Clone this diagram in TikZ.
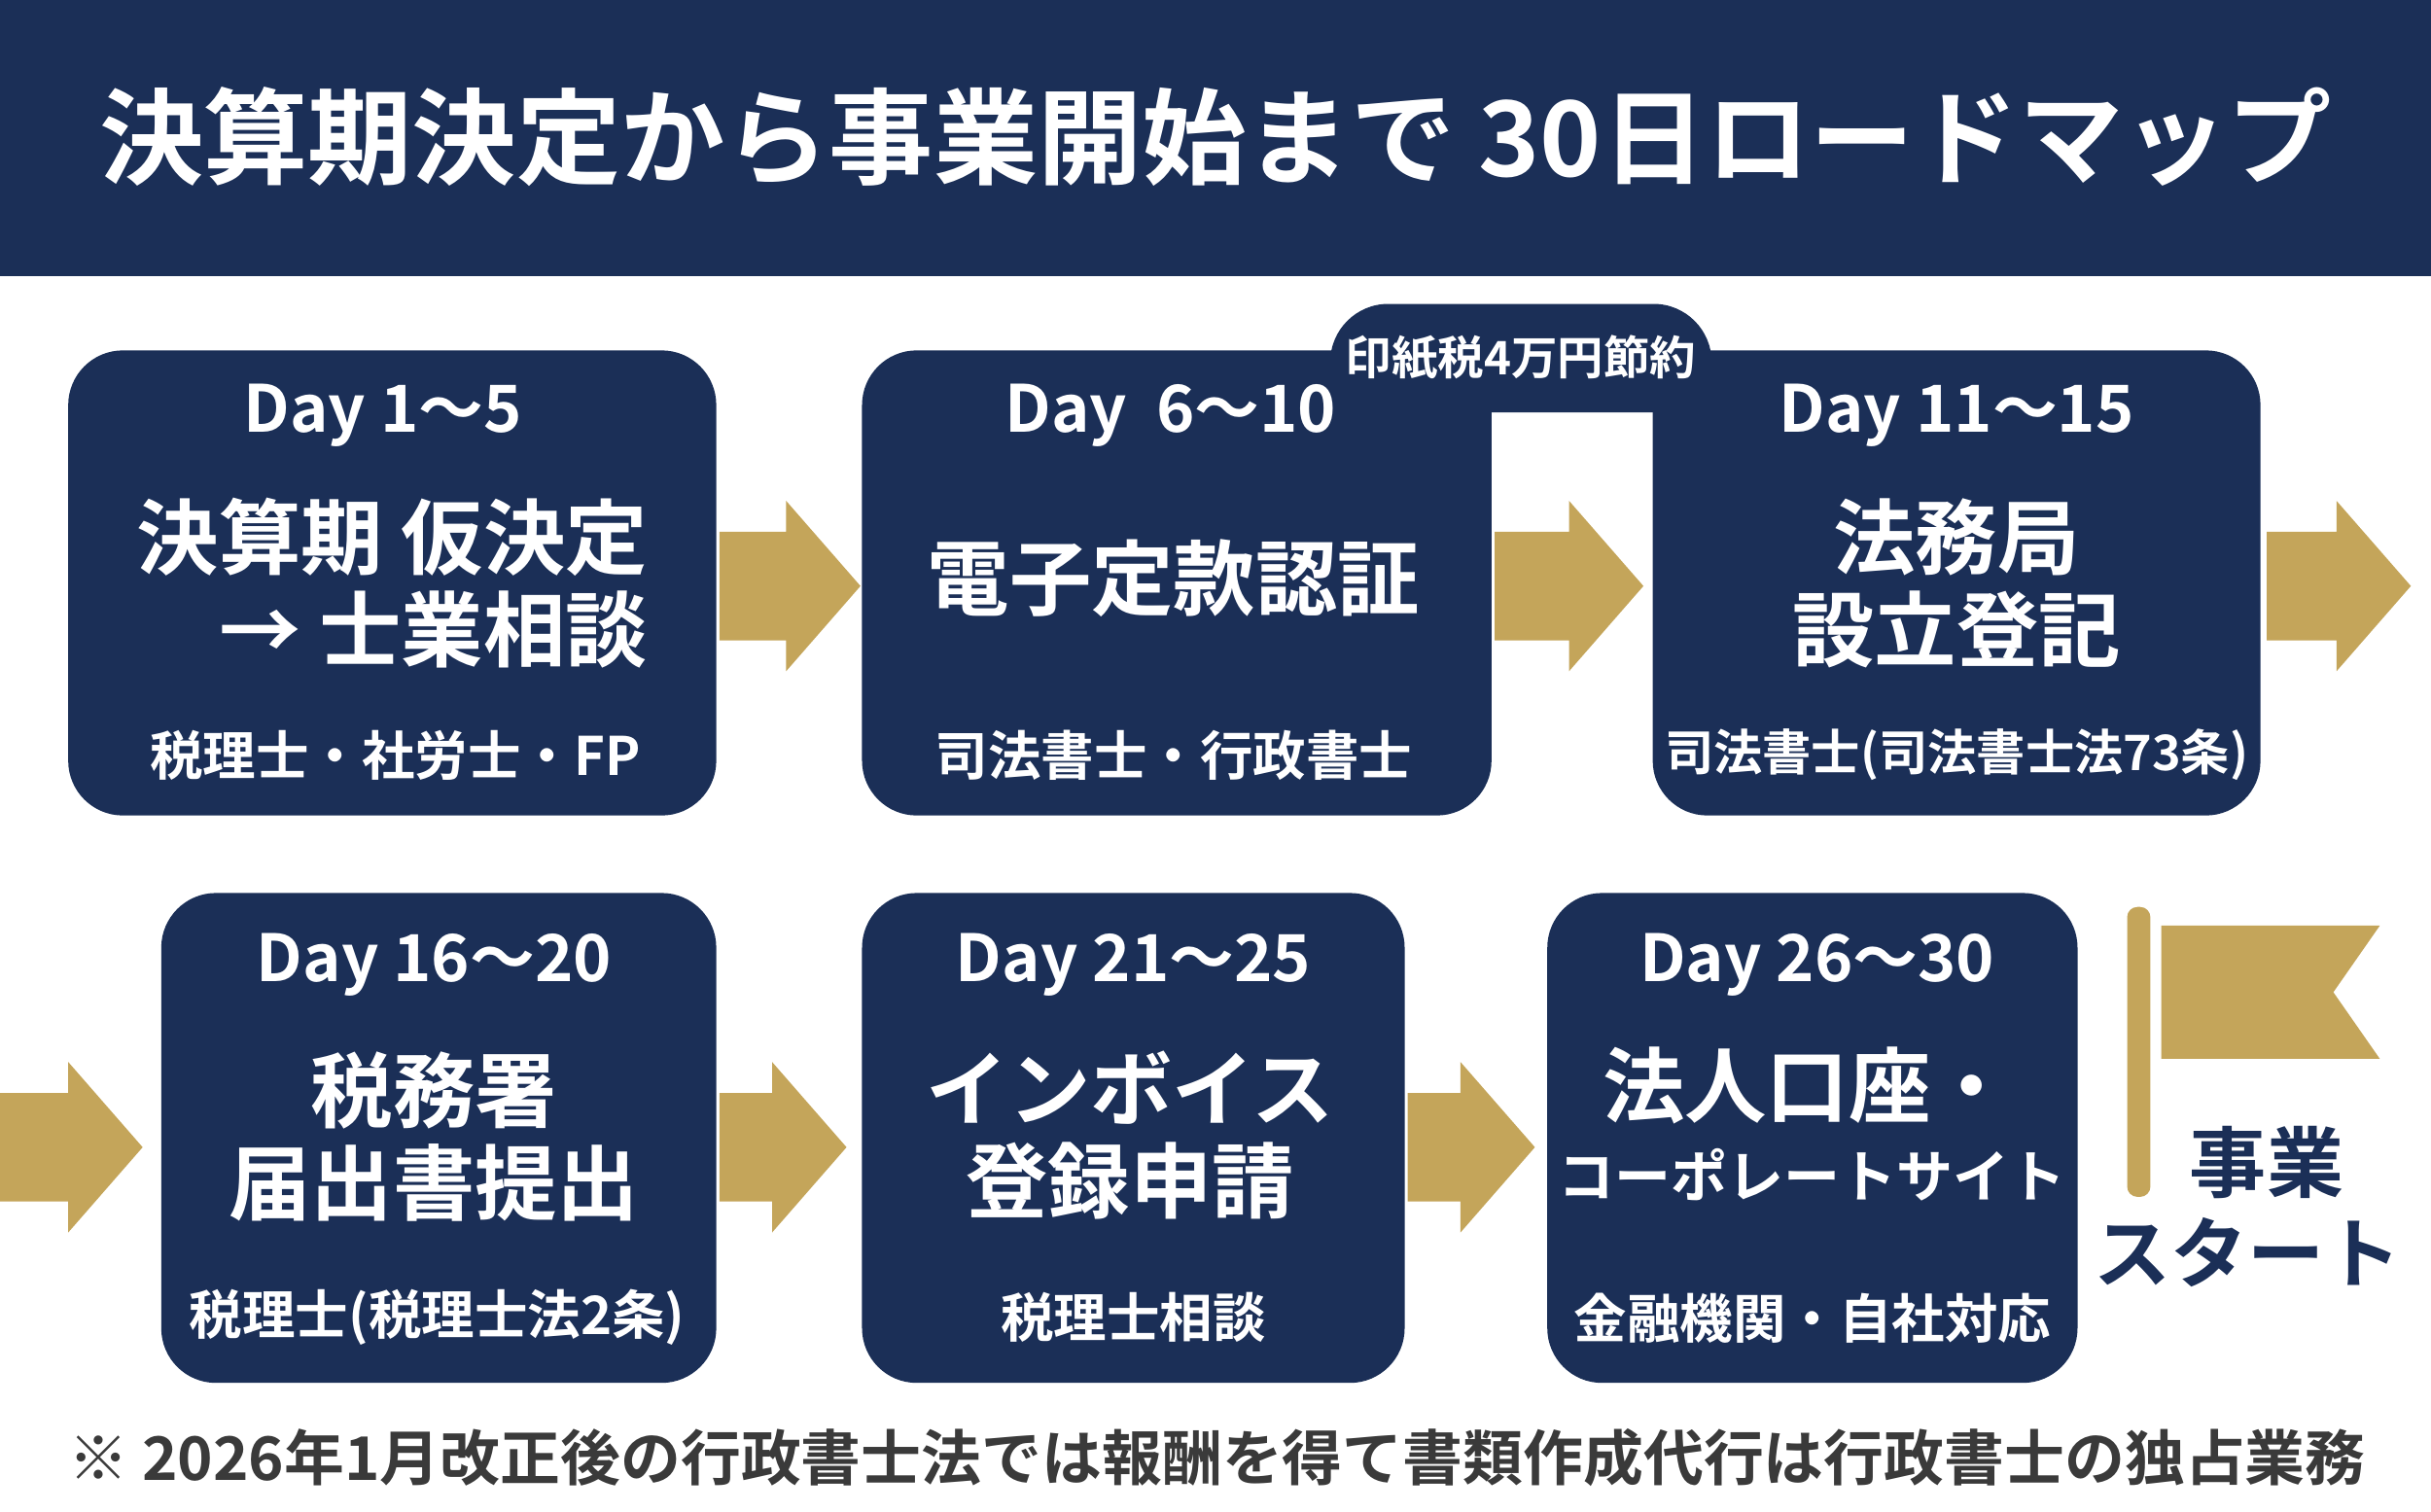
\documentclass[tikz,border=0pt]{standalone}
\usepackage{fontspec}
\setmainfont{Noto Sans CJK JP}[BoldFont={Noto Sans CJK JP Bold}]
\definecolor{navy}{HTML}{1B2F57}
\definecolor{gold}{HTML}{C4A55A}
\definecolor{ink}{HTML}{3A3A3A}
\tikzset{
  stepbox/.style={fill=navy, rounded corners=16pt, inner sep=0pt},
  dayl/.style={text=white, font=\bfseries\fontsize{19}{19}\selectfont},
  mainl/.style={text=white, font=\bfseries\fontsize{24}{27}\selectfont, align=center},
  subl/.style={text=white, font=\bfseries\fontsize{15.5}{15.5}\selectfont},
  every node/.style={inner sep=0pt}
}
% block arrow: from x #1 to tip x #2 at height #3
\newcommand\goldarrow[3]{%
  \fill[gold] (#1,#3-35) -- (#2-48,#3-35) -- (#2-48,#3-55) -- (#2,#3)
    -- (#2-48,#3+55) -- (#2-48,#3+35) -- (#1,#3+35) -- cycle;}
\begin{document}
\begin{tikzpicture}[x=0.1594mm, y=-0.1594mm]
  \useasboundingbox (0,0) rectangle (1568,975);
  \fill[navy] (0,0) rectangle (1568,178);
  \node[text=white, font=\bfseries\fontsize{30.5}{30}\selectfont] (title) at (784,88) {決算期決定から事業開始まで 30日ロードマップ};

  % row 1
  \fill[stepbox] (44,226) rectangle (462,526);
  \fill[stepbox] (556,226) rectangle (962,526);
  \fill[stepbox] (1066,226) rectangle (1458,526);
  % row 2
  \fill[stepbox] (104,576) rectangle (462,892);
  \fill[stepbox] (556,576) rectangle (906,892);
  \fill[stepbox] (998,576) rectangle (1340,892);

  % arrows
  \goldarrow{464}{555}{378}
  \goldarrow{964}{1060}{378}
  \goldarrow{1462}{1555}{378}
  \goldarrow{0}{92}{740}
  \goldarrow{464}{546}{740}
  \goldarrow{908}{990}{740}

  \node[dayl] (d1) at (247,268) {Day 1〜5};
  \node[mainl] (m1) at (253,376) {決算期 仮決定\\\quad→ 士業相談};
  \node[subl] (s1) at (255,487) {税理士・社労士・FP};

  \node[dayl] (d2) at (755,268) {Day\ \ 6〜10};
  \node[mainl] (m2) at (757,373) {電子定款認証};
  \node[subl] (s2) at (757,487) {司法書士・行政書士};

  \node[dayl] (d3) at (1262,268) {Day 11〜15};
  \node[mainl] (m3) at (1262,376) {法務局\\設立登記};
  \node[subl, font=\bfseries\fontsize{14.3}{15}\selectfont] (s3) at (1262,487) {司法書士(司法書士法73条)};

  \node[dayl] (d4) at (280,622) {Day 16〜20};
  \node[mainl] (m4) at (280,733) {税務署\\届出書提出};
  \node[subl] (s4) at (282,850) {税理士(税理士法2条)};

  \node[dayl] (d5) at (731,622) {Day 21〜25};
  \node[mainl] (m5) at (729,732) {インボイス\\登録申請};
  \node[subl] (s5) at (731,850) {税理士相談};

  \node[dayl] (d6) at (1172,622) {Day 26〜30};
  \node[mainl] (m6) at (1166,700) {法人口座・};
  \node[text=white, font=\bfseries\fontsize{16.5}{17}\selectfont] (m6b) at (1169,758) {コーポレートサイト};
  \node[subl] (s6) at (1169,850) {金融機関・自社対応};

  % callout
  \fill[navy] (912,262) -- (934,298) -- (958,262) -- cycle;
  \fill[navy, rounded corners=17pt] (858,196) rectangle (1104,266);
  \node[text=white, font=\bfseries\fontsize{13.5}{13.5}\selectfont] (tag) at (981,231) {印紙税4万円節約};

  % flag
  \fill[gold, rounded corners=3pt] (1372,585) rectangle (1387,772);
  \fill[gold] (1394,597) -- (1535,597) -- (1505,640) -- (1535,683) -- (1394,683) -- cycle;
  \node[text=navy, font=\bfseries\fontsize{22.5}{22}\selectfont] (go1) at (1462,750) {事業};
  \node[text=navy, font=\bfseries\fontsize{22.5}{22}\selectfont] (go2) at (1450,808) {スタート};

  \node[text=ink, font=\bfseries\fontsize{17.6}{18}\selectfont] (note) at (785,940) {※ 2026年1月改正後の行政書士法では報酬を得て書類作成代行は行政書士の独占業務};
\end{tikzpicture}
\end{document}
